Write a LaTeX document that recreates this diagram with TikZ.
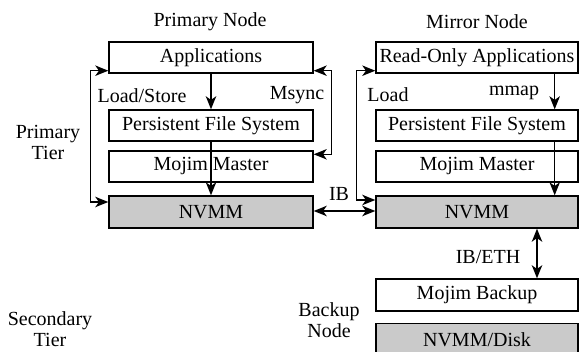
\documentclass[tikz,border=0pt]{standalone}
\usepackage{fontspec}
\setmainfont{Liberation Serif}
\usetikzlibrary{arrows.meta,calc}
\definecolor{boxgray}{RGB}{202,202,202}
\begin{document}
\begin{tikzpicture}[x=0.5pt,y=-0.5pt,
  font=\fontsize{10}{10.5}\selectfont,
  line width=0.7pt,
  layer/.style={draw=black,line width=0.7pt,minimum height=15.5pt,inner sep=0pt,anchor=center},
  pcol/.style={layer,minimum width=102pt},
  mcol/.style={layer,minimum width=101pt},
  mem/.style={fill=boxgray,minimum height=16pt},
  lbl/.style={inner sep=0pt,align=center},
  tip/.tip={Stealth[length=6.5pt,width=5.2pt,inset=1.8pt]},
  arr/.style={-tip},
  biarr/.style={tip-tip}]
\useasboundingbox (0,0) rectangle (579,352);
\clip (0,0) rectangle (579,352);
% primary node
\node[pcol] (papp) at (211,57.5) {Applications};
\node[pcol] (ppfs) at (211,125.5) {Persistent File System};
\node[pcol] (pmm) at (211,166.5) {Mojim Master};
\node[pcol,mem] (pnvmm) at (211,212) {NVMM};
% mirror node
\node[mcol] (mapp) at (477,57.5) {Read-Only Applications};
\node[mcol] (mpfs) at (477,125.5) {Persistent File System};
\node[mcol] (mmm) at (477,166.5) {Mojim Master};
\node[mcol,mem] (mnvmm) at (477,212) {NVMM};
% backup node
\node[mcol,minimum height=16pt] (bmb) at (477,295) {Mojim Backup};
\node[mcol,mem] (bdisk) at (477,339.5) {NVMM/Disk};
% labels
\node[lbl] (tpn) at (210,22) {Primary Node};
\node[lbl] (tmn) at (477,22) {Mirror Node};
\node[lbl] (tpt) at (48,142.5) {Primary\\Tier};
\node[lbl] (tst) at (50,329.5) {Secondary\\Tier};
\node[lbl] (tbn) at (329,320) {Backup\\Node};
\node[lbl] (tls) at (142,96) {Load/Store};
\node[lbl] (tms) at (297,95) {Msync};
\node[lbl] (tld) at (388,95) {Load};
\node[lbl] (tmm) at (514,93) {mmap};
\node[lbl] (tib) at (339,194) {IB};
\node[lbl] (tibe) at (488,257) {IB/ETH};
% connectors
\draw[arr] (papp.south) -- (ppfs.north);
\draw[arr] (ppfs.south) -- (pnvmm.north);
\draw[arr] ([xshift=-12pt]mapp.south east) -- ([xshift=-12pt]mpfs.north east);
\draw[arr] ([xshift=-12pt]mpfs.south east) -- ([xshift=-12pt]mnvmm.north east);
\draw[biarr] ([yshift=1.5pt]papp.south west) -- ++(-18,0) |- ([yshift=5pt]pnvmm.west);
\draw[biarr] ([yshift=1.5pt]papp.south east) -- ++(18,0) |- ([yshift=-2pt]pmm.north east);
\draw[biarr] ([yshift=1.5pt]mapp.south west) -- ++(-19,0) |- ([yshift=6pt]mnvmm.west);
\draw[biarr] ([yshift=0.5pt]pnvmm.east) -- ([yshift=0.5pt]mnvmm.west);
\draw[biarr] ([xshift=30pt]mnvmm.south) -- ([xshift=30pt]bmb.north);
\end{tikzpicture}
\end{document}
